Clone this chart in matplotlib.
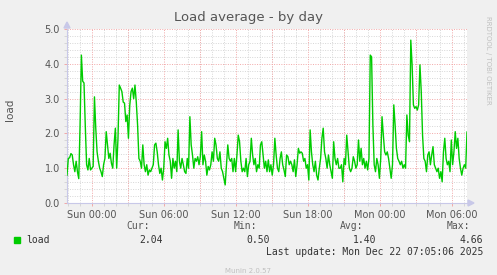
import numpy as np
import pandas as pd
import matplotlib
matplotlib.use('Agg')
import matplotlib.pyplot as plt
import matplotlib.dates as mdates

# load values, left to right, roughly every 6.5 minutes
load_a = [0.80, 1.28, 1.30, 1.42, 1.38, 1.10, 0.90, 1.20, 0.90, 0.70, 2.24, 4.25, 3.50, 3.45,
          2.20, 1.10, 0.95, 1.28, 0.95, 1.00, 1.05, 3.05, 2.15, 1.47, 1.20, 1.00, 0.90, 0.76,
          1.10, 1.28, 2.05, 1.67, 1.28, 1.43, 1.14, 1.00, 1.67, 2.15, 1.00, 1.86, 3.39, 3.30,
          3.20, 2.90, 2.87, 2.34, 2.53, 1.86, 2.80, 3.20, 3.30, 3.00, 3.39]
load_b = [2.90, 2.24, 1.28, 1.20, 1.00, 1.67, 1.10, 0.90, 1.10, 0.80, 0.95, 0.90, 1.00, 1.10,
          1.67, 1.72, 1.47, 1.10, 0.85, 1.00, 0.66, 1.00, 1.76, 1.57, 1.86, 1.38, 1.20, 0.71,
          1.28, 1.00, 1.20, 0.90, 2.10, 1.20, 1.00, 1.28, 1.10, 0.90, 0.85, 1.28, 1.00, 2.48,
          1.67, 1.38, 1.00, 1.28, 1.20, 1.33, 1.10, 1.33, 2.05, 1.10]
load_c = [1.38, 1.20, 0.80, 1.05, 0.95, 1.10, 1.47, 1.20, 1.86, 1.67, 1.28, 1.20, 1.47, 1.00,
          0.90, 0.71, 0.52, 1.10, 1.67, 1.28, 1.20, 1.28, 0.90, 1.28, 0.90, 1.38, 1.95, 1.76,
          1.20, 0.90, 1.00, 0.90, 1.28, 0.76, 1.10, 1.20, 1.86, 1.38, 1.10, 1.28, 0.90, 1.10,
          1.00, 1.67, 1.76, 1.38, 1.00, 1.20, 0.90, 1.24, 0.90, 1.10]
load_d = [0.80, 1.10, 1.86, 1.38, 1.00, 0.90, 1.28, 1.47, 1.10, 0.95, 0.76, 1.38, 1.33, 1.10,
          1.20, 1.10, 0.90, 1.24, 0.76, 1.10, 1.57, 1.43, 1.47, 1.43, 1.20, 1.28, 1.00, 1.10,
          0.66, 2.10, 1.47, 1.10, 0.90, 1.20, 0.80, 0.66, 1.00, 1.28, 1.86, 2.15, 1.47, 1.28,
          1.00, 1.38, 1.10, 0.90, 0.71, 1.76, 1.28, 1.10, 1.28, 1.00]
load_e = [1.00, 1.10, 0.61, 1.28, 1.10, 1.95, 1.47, 1.00, 0.90, 1.00, 1.33, 1.20, 1.00, 1.10,
          1.81, 1.20, 1.57, 1.10, 1.28, 1.00, 1.20, 0.95, 1.28, 4.25, 4.20, 2.24, 1.10, 0.90,
          1.28, 1.10, 0.71, 1.28, 2.48, 1.95, 1.47, 1.38, 1.47, 1.28, 1.00, 0.71, 1.10, 2.82,
          2.24, 1.57, 1.28, 1.20, 1.10, 1.20, 1.00, 1.10, 1.00, 2.53]
load_f = [1.95, 1.76, 4.68, 3.97, 2.82, 2.72, 2.77, 2.67, 2.82, 3.97, 3.20, 1.95, 1.28, 1.20,
          0.90, 1.38, 1.47, 1.10, 1.38, 1.62, 1.10, 1.00, 0.90, 1.00, 0.71, 0.90, 0.61, 1.47,
          1.86, 1.28, 1.10, 1.20, 0.90, 1.81, 1.10, 1.47, 2.05, 1.57, 1.86, 1.28, 1.00, 0.80,
          1.00, 1.10, 1.00, 2.04]
load = load_a + load_b + load_c + load_d + load_e + load_f

t_start = pd.Timestamp('2025-12-20 21:55')
t_end = pd.Timestamp('2025-12-22 07:15')
times = pd.date_range(t_start, t_end, periods=len(load))

title = 'Load average - by day'
stats_names = ['Cur:', 'Min:', 'Avg:', 'Max:']
stats_vals = ['2.04', '0.50', '1.40', '4.66']
last_update = 'Last update: Mon Dec 22 07:05:06 2025'

bg = '#f0f0f0'
red = '#f2a8a8'
grey = '#d6d6d6'
axcol = '#c8c8e8'
dots = (0, (1, 1.5))

fig = plt.figure(figsize=(4.97, 2.75), dpi=100, facecolor=bg)
ax = fig.add_axes([67/497, 72/275, 400/497, 174/275])
ax.set_facecolor('white')

ax.plot(times, load, color='#00cc00', lw=1.0, zorder=3)

ax.set_xlim(t_start, t_end)
ax.set_ylim(0, 5)

# grid, rrdtool style
ax.xaxis.set_major_locator(mdates.HourLocator(byhour=range(0, 24, 6)))
ax.xaxis.set_major_formatter(mdates.DateFormatter('%a %H:%M'))
ax.xaxis.set_minor_locator(mdates.HourLocator())
ax.set_yticks(np.arange(0, 5.1, 1.0))
ax.set_yticks(np.arange(0, 5.01, 0.2), minor=True)
ax.yaxis.set_major_formatter(matplotlib.ticker.FormatStrFormatter('%.1f'))
ax.grid(True, which='minor', color=grey, ls=dots, lw=0.7, zorder=1)
for h in pd.date_range('2025-12-20 21:00', t_end, freq='3h'):
    ax.axvline(h, color=red, ls=dots, lw=0.7, zorder=2)
for v in np.arange(1, 5.1, 1.0):
    ax.axhline(v, color=red, ls=dots, lw=0.7, zorder=2)

ax.tick_params(which='major', length=2, width=0.7, color=red, direction='out',
               labelsize=7, labelcolor='#555555', pad=3)
ax.tick_params(which='minor', length=2, width=0.7, color=grey, direction='out')
for s in ['top', 'right']:
    ax.spines[s].set_visible(False)
for s in ['left', 'bottom']:
    ax.spines[s].set_color(axcol)
    ax.spines[s].set_linewidth(0.8)

# axis arrows
fig.patches.append(matplotlib.patches.Polygon([[64/497, 1-28/275], [70/497, 1-28/275], [67/497, 1-22/275]],
                                              closed=True, transform=fig.transFigure, color=axcol))
fig.patches.append(matplotlib.patches.Polygon([[468/497, 75/275], [468/497, 69/275], [474/497, 72/275]],
                                              closed=True, transform=fig.transFigure, color=axcol))

fig.text(248/497, 1-18/275, title, ha='center', va='center', fontsize=9.5, color='#555555')
fig.text(10/497, 1-110/275, 'load', rotation=90, ha='center', va='center', fontsize=7.5, color='#555555')
fig.text(488/497, 1-60/275, 'RRDTOOL / TOBI OETIKER', rotation=270, ha='center', va='center',
         fontsize=5, color='#c0c0c0')

mono = 'DejaVu Sans Mono'
fig.patches.append(matplotlib.patches.Rectangle((14/497, 1-243/275), 6/497, 6/275,
                                                transform=fig.transFigure, color='#00cc00'))
fig.text(26/497, 1-240/275, 'load', family=mono, fontsize=7, color='#333333', va='center')
name_x = [150, 257, 363, 470]
val_x = [163, 270, 376, 483]
for nm, vl, nx, vx in zip(stats_names, stats_vals, name_x, val_x):
    fig.text(nx/497, 1-226/275, nm, family=mono, fontsize=7, color='#555555', ha='right', va='center')
    fig.text(vx/497, 1-240/275, vl, family=mono, fontsize=7, color='#333333', ha='right', va='center')
fig.text(483/497, 1-252/275, last_update, family=mono, fontsize=7, color='#333333', ha='right', va='center')
fig.text(248/497, 1-271/275, 'Munin 2.0.57', fontsize=5, color='#c0c0c0', ha='center', va='center')

fig.savefig('out.png', dpi=100, facecolor=bg)
